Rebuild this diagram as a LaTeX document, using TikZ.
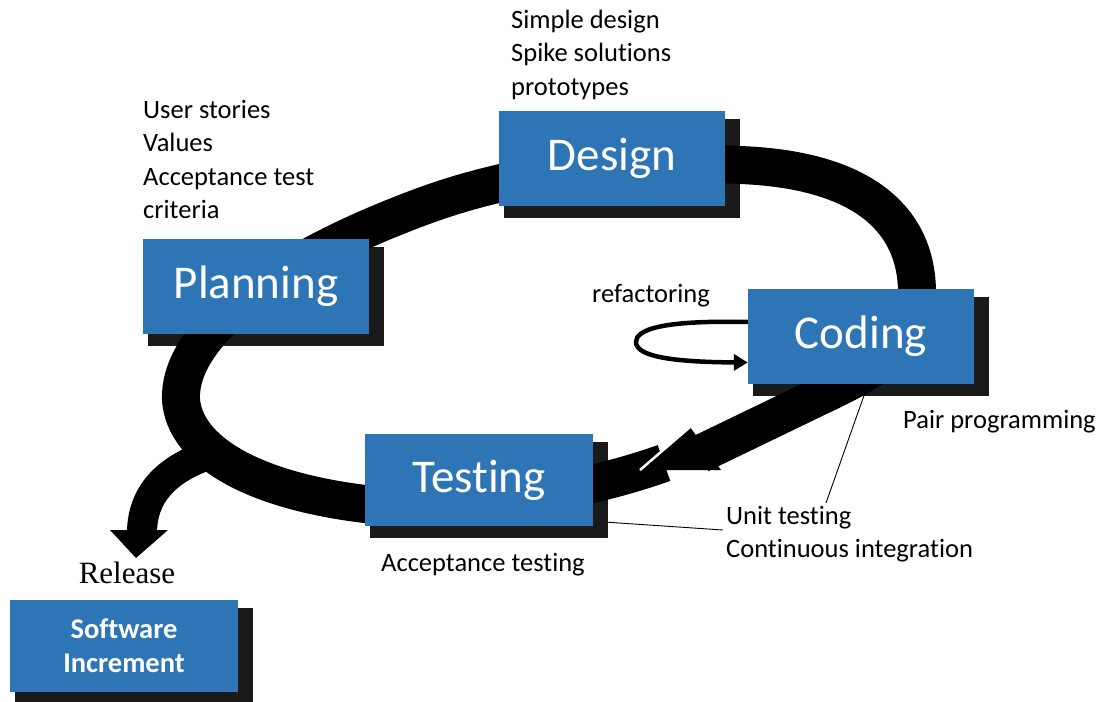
\documentclass[tikz,border=0pt]{standalone}
\usepackage{fontspec}
\setmainfont{Carlito}[Ligatures=NoCommon]
\newfontfamily\seriffont{Liberation Serif}
\usetikzlibrary{arrows.meta}
\definecolor{boxblue}{RGB}{46,117,182}
\definecolor{shadowgray}{RGB}{26,26,26}
\pgfdeclarelayer{bg}
\pgfdeclarelayer{mid}
\pgfsetlayers{bg,mid,main}
\begin{document}
\begin{tikzpicture}[x=1pt,y=-1pt,
  stagebox/.style={fill=boxblue, text=white, inner sep=0pt, minimum width=226pt, minimum height=95pt, font=\fontsize{47}{56}\selectfont},
  note/.style={inner sep=0pt, anchor=north west, align=left, font=\fontsize{26.5}{33.5}\selectfont},
  oneline/.style={inner sep=0pt, anchor=base west, font=\fontsize{26.5}{33.5}\selectfont},
  band/.style={line width=38pt, line join=round},
  thin/.style={line width=0.9pt}
]
\useasboundingbox (0,0) rectangle (1104,702);

% stage boxes
\node[stagebox] (design) at (612,158.5) {Design};
\node[stagebox] (planning) at (256,286.5) {Planning};
\node[stagebox] (coding) at (861,336.5) {Coding};
\node[stagebox, minimum width=228pt, minimum height=92pt] (testing) at (479,480) {Testing};
\node[stagebox, minimum width=228pt, minimum height=92pt, align=center,
      font=\bfseries\fontsize{28.5}{34}\selectfont] (incr) at (124,646) {Software\\Increment};

% background and shadows
\begin{pgfonlayer}{bg}
\fill[white] (0,0) rectangle (1104,702);
\foreach \n in {design,planning,coding,testing,incr}
  \fill[shadowgray] ([xshift=5pt,yshift=-8pt]\n.north west) rectangle ([xshift=15pt,yshift=-12pt]\n.south east);
\end{pgfonlayer}

% main cycle band
\begin{pgfonlayer}{mid}
\draw[band] (664,463) .. controls (560,500) and (430,512) .. (365,504)
  .. controls (250,490) and (185,450) .. (181,400)
  .. controls (178,340) and (260,270) .. (400,215)
  .. controls (440,199) and (470,190) .. (510,181)
  .. controls (600,161) and (680,162) .. (740,165)
  .. controls (870,170) and (918,225) .. (917,295)
  .. controls (917,345) and (880,368) .. (818,397) -- (700,454);
\fill (640,470) -- (690,427) -- (721,470) -- cycle;
\draw[white, line width=2.5pt] (640,470) -- (690,427);
% release branch
\draw[line width=30pt] (208,455) .. controls (165,470) and (143,495) .. (142,531);
\fill (110,530) -- (168,530) -- (136,558) -- cycle;
\end{pgfonlayer}

% refactoring loop
\draw[line width=4.5pt, -{Triangle[length=14pt,width=16pt]}]
  ([yshift=14.5pt]coding.west) .. controls (660,320) and (636,330) .. (636,342)
  .. controls (636,356) and (670,362) .. ([yshift=-26pt]coding.west);

% notes
\node[note] (designnotes) at (511,4.5) {\strut Simple design\\Spike solutions\\prototypes};
\node[note] (plannotes) at (143,94.5) {\strut User stories\\Values\\Acceptance test\\criteria};
\node[oneline] (refact) at (592,302) {refactoring};
\node[oneline] (pair) at (903,428) {Pair programming};
\node[note] (unitnotes) at (726,500.5) {\strut Unit testing\\Continuous integration};
\node[oneline] (acctest) at (381,571) {Acceptance testing};
\node[inner sep=0pt, anchor=base, font=\seriffont\fontsize{31}{36}\selectfont] (release) at (127,583) {Release};

% thin leader lines
\coordinate (utA) at (826,503);
\coordinate (utB) at (723,530);
\draw[thin] ([xshift=7pt]coding.south) -- (utA);
\draw[thin] ([xshift=14pt,yshift=4pt]testing.south east) -- (utB);
\end{tikzpicture}
\end{document}
